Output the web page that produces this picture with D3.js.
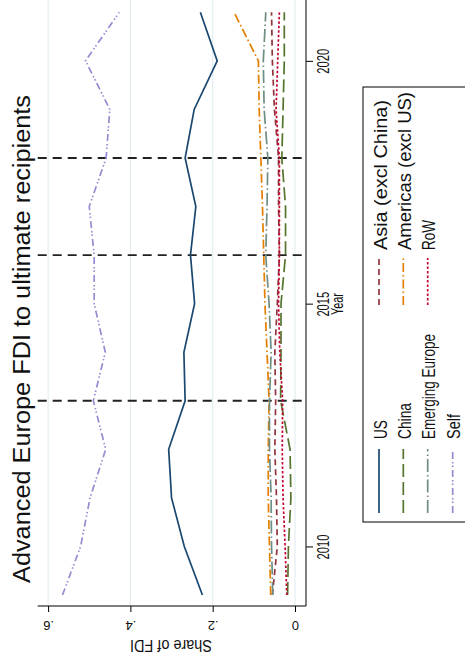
<!DOCTYPE html>
<html><head><meta charset="utf-8">
<script src="https://cdn.jsdelivr.net/npm/d3@7/dist/d3.min.js"></script>
<style>
body{margin:0;background:#fff}
svg{display:block}
text{font-family:"Liberation Sans",Arial,Helvetica,sans-serif;fill:#111}
</style>
</head><body>
<svg id="chart" width="465" height="664"></svg>
<script>
// ---- data ----
const years = [2009,2010,2011,2012,2013,2014,2015,2016,2017,2018,2019,2020,2021];
const usShare       = [0.225,0.269,0.300,0.307,0.267,0.270,0.244,0.254,0.241,0.267,0.245,0.189,0.230];
const asiaShare     = [0.055,0.043,0.045,0.049,0.047,0.049,0.043,0.038,0.040,0.040,0.050,0.055,0.057];
const chinaShare    = [0.018,0.016,0.010,0.012,0.035,0.034,0.034,0.023,0.023,0.032,0.029,0.026,0.026];
const americasShare = [0.059,0.062,0.065,0.065,0.063,0.068,0.073,0.076,0.079,0.083,0.087,0.089,0.148];
const emEuropeShare = [0.054,0.057,0.058,0.062,0.062,0.058,0.063,0.071,0.068,0.066,0.075,0.077,0.071];
const rowShare      = [0.020,0.024,0.029,0.031,0.030,0.037,0.040,0.038,0.038,0.038,0.046,0.042,0.038];
const selfShare     = [0.565,0.521,0.498,0.460,0.490,0.461,0.488,0.488,0.500,0.459,0.450,0.509,0.427];

const seriesNames = ["US","Asia (excl China)","China","Americas (excl US)","Emerging Europe","RoW","Self"];
const seriesValues = [usShare,asiaShare,chinaShare,americasShare,emEuropeShare,rowShare,selfShare];
const seriesColors = ["#1a476f","#90353b","#55752f","#e37e00","#6e8e84","#c10534","#938dd2"];
const seriesDashes = ["none","6,4","13,5","9,3,1.5,3","13,3,1.5,3","2.5,2","7,3,1.5,2,1.5,3"];

const valueTicks = [0,0.2,0.4,0.6];
const valueTickLabels = ["0",".2",".4",".6"];
const yearTicks = [2010,2015,2020];
const markerYears = [2013,2016,2018];

const titleText = "Advanced Europe FDI to ultimate recipients";
const valueAxisTitle = "Share of FDI";
const yearAxisTitle = "Year";

// ---- layout (chart is drawn rotated 90° counter-clockwise) ----
const svg = d3.select("#chart");
const yearScale = d3.scaleLinear().domain([2009,2021]).range([595,12.3]);   // screen y
const valScale  = d3.scaleLinear().domain([0,0.6]).range([295,48.1]);        // screen x
const plotLeft = 37.7, plotRight = 306, plotBottom = 606, plotTop = 0;

// gridlines
svg.append("g").selectAll("line").data(valueTicks).join("line")
  .attr("x1",d=>valScale(d)).attr("x2",d=>valScale(d))
  .attr("y1",plotTop).attr("y2",plotBottom)
  .attr("stroke","#e4eef0").attr("stroke-width",1.2);

// dashed marker lines
svg.append("g").selectAll("line").data(markerYears).join("line")
  .attr("x1",plotLeft).attr("x2",plotRight)
  .attr("y1",d=>yearScale(d)).attr("y2",d=>yearScale(d))
  .attr("stroke","#222").attr("stroke-width",1.8).attr("stroke-dasharray","9,6");

// series lines
const line = d3.line().x(d=>valScale(d[1])).y(d=>yearScale(d[0]));
svg.append("g").selectAll("path").data(seriesValues).join("path")
  .attr("d",vals=>line(years.map((y,i)=>[y,vals[i]])))
  .attr("fill","none")
  .attr("stroke",(d,i)=>seriesColors[i])
  .attr("stroke-width",1.7)
  .attr("stroke-dasharray",(d,i)=>seriesDashes[i]);

// value axis (original y axis), at screen bottom, labels upside down
const valAxis = d3.axisBottom(valScale).tickValues(valueTicks)
  .tickFormat((d,i)=>valueTickLabels[i]).tickSize(6).tickSizeOuter(0);
const gv = svg.append("g").attr("transform",`translate(0,${plotBottom})`).call(valAxis);
gv.select(".domain").attr("d",`M${plotLeft},0H${plotRight}`).attr("stroke","#000");
gv.selectAll(".tick line").attr("stroke","#000");
gv.selectAll(".tick text").attr("y",null).attr("dy",null)
  .attr("transform","translate(0,14.5) rotate(180)")
  .attr("text-anchor","middle").attr("font-size",13).attr("fill","#111");

// year axis (original x axis), at screen right
const yrAxis = d3.axisRight(yearScale).tickValues(yearTicks).tickFormat(d3.format("d"))
  .tickSize(7).tickSizeOuter(0);
const gy = svg.append("g").attr("transform",`translate(${plotRight},0)`).call(yrAxis);
gy.select(".domain").attr("d",`M0,${plotTop}V${plotBottom}`).attr("stroke","#000");
gy.selectAll(".tick line").attr("stroke","#000");
gy.selectAll(".tick text").attr("x",null).attr("dy",null)
  .attr("transform","translate(23,0) rotate(-90) scale(0.68,1)")
  .attr("text-anchor","middle").attr("font-size",16.5).attr("fill","#111");

// axis titles
svg.append("text").attr("transform",`translate(171,639.5) rotate(180)`)
  .attr("text-anchor","middle").attr("font-size",16)
  .attr("textLength",82).attr("lengthAdjust","spacingAndGlyphs")
  .text(valueAxisTitle);
svg.append("text").attr("transform",`translate(342.5,304) rotate(-90) scale(0.66,1)`)
  .attr("text-anchor","middle").attr("font-size",16.5).text(yearAxisTitle);

// title
svg.append("text").attr("transform",`translate(29.5,339) rotate(-90)`)
  .attr("text-anchor","middle").attr("font-size",23).attr("fill","#1e3a5c")
  .attr("textLength",488).attr("lengthAdjust","spacingAndGlyphs")
  .text(titleText);

// legend
const lg = svg.append("g");
lg.append("rect").attr("x",363).attr("y",87).attr("width",130).attr("height",435)
  .attr("fill","#fff").attr("stroke","#000").attr("stroke-width",1);
const rowX = [379,403.3,427.7,452.7];
const colKey = [[513,449],[305,258]];
const colText = [439,250];
const legendLabelLengths = [19,150,36,158,105,30,25];
seriesNames.forEach((name,i)=>{
  const r = Math.floor(i/2), c = i%2;
  lg.append("line").attr("x1",rowX[r]).attr("x2",rowX[r])
    .attr("y1",colKey[c][0]).attr("y2",colKey[c][1])
    .attr("stroke",seriesColors[i]).attr("stroke-width",1.7)
    .attr("stroke-dasharray",seriesDashes[i]);
  lg.append("text").attr("transform",`translate(${rowX[r]+7.5},${colText[c]}) rotate(-90)`)
    .attr("text-anchor","start").attr("font-size",18)
    .attr("textLength",legendLabelLengths[i]).attr("lengthAdjust","spacingAndGlyphs")
    .text(name);
});
</script>
</body></html>
